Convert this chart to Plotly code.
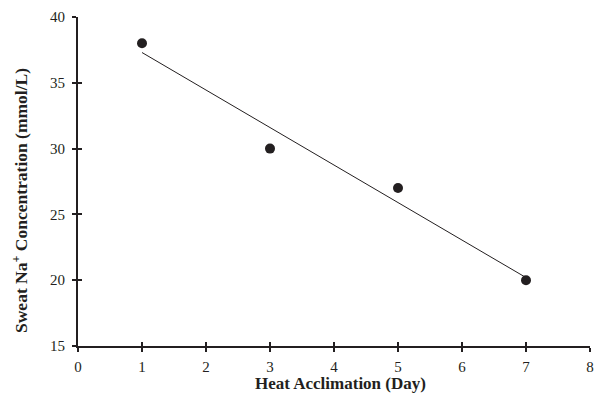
import numpy as np
import plotly.graph_objects as go

days = [1, 3, 5, 7]
sweat_na = [38, 30, 27, 20]
x_ticks = [0, 1, 2, 3, 4, 5, 6, 7, 8]
y_ticks = [15, 20, 25, 30, 35, 40]
x_title = "<b>Heat Acclimation (Day)</b>"
y_title = "<b>Sweat Na<sup>+</sup> Concentration (mmol/L)</b>"

slope, intercept = np.polyfit(days, sweat_na, 1)
fit_x = [min(days), max(days)]
fit_y = [slope * v + intercept for v in fit_x]

font_family = "Liberation Serif, DejaVu Serif, serif"
ink = "#231f20"

fig = go.Figure()
fig.add_trace(go.Scatter(x=fit_x, y=fit_y, mode="lines",
                         line=dict(color=ink, width=1), showlegend=False))
fig.add_trace(go.Scatter(x=days, y=sweat_na, mode="markers",
                         marker=dict(color=ink, size=10), showlegend=False))
fig.add_trace(go.Scatter(x=[None], y=[None], xaxis="x2", yaxis="y2", showlegend=False,
                         hoverinfo="skip"))

axis_common = dict(showgrid=False, zeroline=False, showline=True, linecolor=ink,
                   linewidth=2, ticks="outside", ticklen=4, tickwidth=2, tickcolor=ink,
                   automargin=False,
                   tickfont=dict(family=font_family, size=15, color=ink))

fig.update_layout(
    width=602, height=393,
    margin=dict(l=78, r=12, t=17, b=47),
    plot_bgcolor="white", paper_bgcolor="white",
    xaxis=dict(range=[0, 8], tickvals=x_ticks, ticklabelstandoff=2, **axis_common),
    yaxis=dict(range=[15, 40], tickvals=y_ticks, ticklabelstandoff=4, **axis_common),
    xaxis2=dict(range=[0, 8], tickvals=x_ticks, overlaying="x", showgrid=False, zeroline=False,
                showticklabels=False, ticks="inside", ticklen=4, tickwidth=2, tickcolor=ink,
                side="bottom", anchor="y"),
    yaxis2=dict(range=[15, 40], tickvals=y_ticks, overlaying="y", showgrid=False, zeroline=False,
                showticklabels=False, ticks="inside", ticklen=4, tickwidth=2, tickcolor=ink,
                side="left", anchor="x"),
    annotations=[
        dict(text=x_title, xref="paper", yref="paper", x=(340 - 78) / 512, y=0,
             xanchor="center", yanchor="middle", yshift=-37, showarrow=False,
             font=dict(family=font_family, size=17, color=ink)),
        dict(text=y_title, xref="paper", yref="paper", x=0, y=(346 - 201) / 329,
             xanchor="center", yanchor="middle", xshift=-58, textangle=-90, showarrow=False,
             font=dict(family=font_family, size=17.5, color=ink)),
    ],
)

fig.write_html("out.html", config={"displayModeBar": False},
               post_script="document.body.style.margin='0';")
